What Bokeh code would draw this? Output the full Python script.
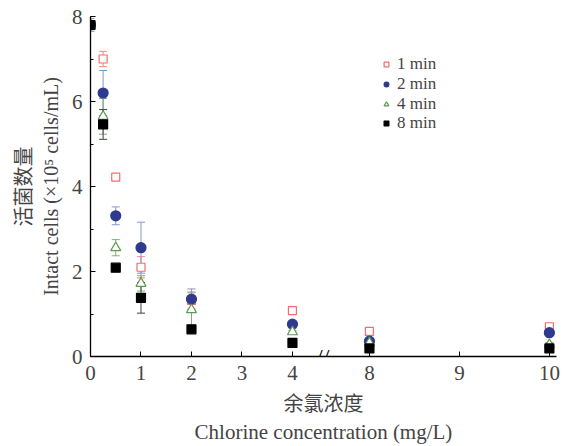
from bokeh.plotting import figure
from bokeh.models import (ColumnDataSource, Whisker, TeeHead, FixedTicker, SingleIntervalTicker,
                          LinearAxis, Label, Range1d, Legend)
from bokeh.embed import file_html
from bokeh.resources import INLINE

# ---- data ----
conc = [0, 0.25, 0.5, 1, 2, 4, 8, 10]
y_1min = [7.8, 7.0, 4.22, 2.1, 1.32, 1.08, 0.59, 0.7]
e_1min = [0.1, 0.18, 0.04, 0.25, 0.2, 0.04, 0.03, 0.08]
y_2min = [7.8, 6.2, 3.31, 2.56, 1.35, 0.76, 0.36, 0.56]
e_2min = [0.15, 0.53, 0.21, 0.6, 0.24, 0.04, 0.03, 0.04]
y_4min = [7.8, 5.65, 2.56, 1.72, 1.1, 0.58, 0.32, 0.28]
e_4min = [0.1, 0.42, 0.19, 0.18, 0.4, 0.03, 0.03, 0.05]
y_8min = [7.8, 5.46, 2.09, 1.38, 0.64, 0.32, 0.19, 0.19]
e_8min = [0.1, 0.35, 0.04, 0.36, 0.08, 0.03, 0.03, 0.05]
x_ticks = [0, 1, 2, 3, 4, 8, 9, 10]
labels = ["1 min", "2 min", "4 min", "8 min"]

# broken x-axis transform
def tx(x):
    return x if x <= 4 else 5.525 + (x - 8) * 1.782

SERIF = "Liberation Serif"
CJK = "Noto Sans CJK SC"

p = figure(width=563, height=446, output_backend="svg", toolbar_location=None,
           x_range=Range1d(0, 9.23), y_range=Range1d(0, 8),
           min_border_left=90, min_border_right=7, min_border_top=16, min_border_bottom=20)
p.outline_line_color = None
p.xgrid.visible = False
p.ygrid.visible = False
p.background_fill_color = "white"

series = [
    (y_1min, e_1min, "square", "#f26d6d", "white", "#f08a8a", 8),
    (y_2min, e_2min, "circle", "#2e3a8f", "#2e3a8f", "#8a94cc", 10),
    (y_4min, e_4min, "triangle", "#5e9a52", "white", "#7cb06e", 10),
    (y_8min, e_8min, "square", "black", "black", "#444444", 9),
]

xs = [tx(c) for c in conc]
for (ys, es, mk, lc, fc, ec, sz), lab in zip(series, labels):
    src = ColumnDataSource(dict(x=xs, lo=[a - b for a, b in zip(ys, es)],
                                hi=[a + b for a, b in zip(ys, es)]))
    w = Whisker(base="x", upper="hi", lower="lo", source=src, line_color=ec, line_width=1,
                upper_head=TeeHead(size=8, line_color=ec, line_width=1),
                lower_head=TeeHead(size=8, line_color=ec, line_width=1))
    p.add_layout(w)

items = []
for (ys, es, mk, lc, fc, ec, sz), lab in zip(series, labels):
    src = ColumnDataSource(dict(x=xs, y=ys))
    r = p.scatter("x", "y", source=src, marker=mk, size=sz, line_color=lc,
                  fill_color=fc, line_width=1.2)
    items.append((lab, [r]))

# one legend box per entry, for tight row spacing
for k, (lab, rs) in enumerate(items):
    lg = Legend(items=[(lab, rs)], location=(290, 282 - 19.8 * k))
    lg.border_line_color = None
    lg.background_fill_alpha = 0
    lg.label_text_font = SERIF
    lg.label_text_font_size = "17px"
    lg.label_height = 18
    lg.glyph_height = 18
    lg.glyph_width = 12
    lg.spacing = 0
    lg.padding = 2
    lg.margin = 0
    lg.label_standoff = 5
    p.add_layout(lg)

# x axis
xa = p.xaxis[0]
xa.ticker = FixedTicker(ticks=[tx(t) for t in x_ticks], minor_ticks=[])
xa.major_label_overrides = {tx(t): str(t) for t in x_ticks}
xa.major_tick_in = 5
xa.major_tick_out = 0
xa.minor_tick_line_color = None
xa.major_label_text_font = SERIF
xa.major_label_text_font_size = "21px"
xa.major_label_standoff = 9
xa.axis_line_width = 1.3
xa.axis_label = "余氯浓度"
xa.axis_label_text_font = CJK
xa.axis_label_text_font_style = "normal"
xa.axis_label_text_font_size = "20px"
xa.axis_label_standoff = 5

xa2 = LinearAxis(axis_label="Chlorine concentration (mg/L)", axis_line_color=None,
                 ticker=FixedTicker(ticks=[]),
                 major_tick_in=0, major_tick_out=0, major_label_standoff=0,
                 minor_tick_in=0, minor_tick_out=0, axis_label_standoff=0,
                 axis_label_text_font=SERIF, axis_label_text_font_style="normal",
                 axis_label_text_font_size="21px")
p.add_layout(xa2, "below")

# y axis
ya = p.yaxis[0]
ya.ticker = SingleIntervalTicker(interval=2, num_minor_ticks=2)
ya.major_tick_in = 5
ya.major_tick_out = 0
ya.minor_tick_in = 3
ya.minor_tick_out = 0
ya.major_label_text_font = SERIF
ya.major_label_text_font_size = "21px"
ya.major_label_standoff = 8
ya.axis_line_width = 1.3
ya.axis_label = "Intact cells (×10⁵ cells/mL)"
ya.axis_label_text_font = SERIF
ya.axis_label_text_font_style = "normal"
ya.axis_label_text_font_size = "20px"
ya.axis_label_standoff = 7

ya2 = LinearAxis(axis_label="活菌数量", axis_line_color=None,
                 ticker=FixedTicker(ticks=[]),
                 major_tick_in=0, major_tick_out=0, major_label_standoff=0,
                 minor_tick_in=0, minor_tick_out=0, axis_label_standoff=0,
                 axis_label_text_font=CJK, axis_label_text_font_style="normal",
                 axis_label_text_font_size="20px")
p.add_layout(ya2, "left")

# axis break mark
brk = Label(x=4.6, y=0, text="//", text_font=SERIF, text_font_size="24px",
            text_align="center", text_baseline="middle", text_color="black")
p.add_layout(brk)

open("out.html", "w").write(file_html(p, INLINE))
